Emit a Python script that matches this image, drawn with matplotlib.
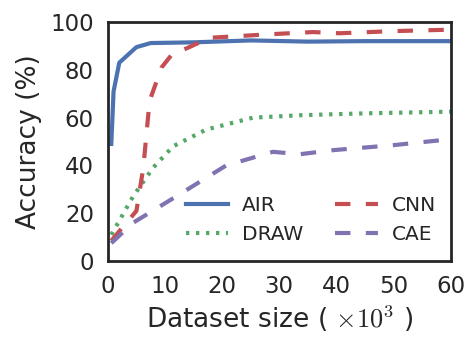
import matplotlib
matplotlib.use("Agg")
import matplotlib.pyplot as plt

# Accuracy vs. training set size (thousands of examples)
air_x = [0.6, 1.0, 2.0, 5.0, 7.5, 15, 25, 35, 45, 60]
air_y = [49, 71, 83, 89.5, 91.2, 91.5, 92.3, 91.8, 92.0, 92.0]

cnn_x = [0.6, 5.0, 6.2, 7.3, 9.4, 11.4, 13.8, 17.8, 27.7, 35.9, 40.6, 50, 60]
cnn_y = [8.5, 21, 39, 67, 81, 87, 89, 93.4, 94.8, 95.8, 95.3, 96.2, 96.8]

draw_x = [0.6, 4.4, 7.9, 11.4, 17.2, 25.4, 33.6, 45, 60]
draw_y = [11, 27, 39, 48, 55, 60, 61, 61.8, 62.5]

cae_x = [0.6, 4.4, 12.6, 20.7, 28.9, 33.6, 39.4, 50, 60]
cae_y = [7.5, 16, 28, 40, 45.7, 44.7, 46.4, 48.5, 51]

x_ticks = [0, 10, 20, 30, 40, 50, 60]
y_ticks = [0, 20, 40, 60, 80, 100]

plt.rcParams["font.family"] = ["DejaVu Sans"]
plt.rcParams["mathtext.fontset"] = "cm"
text_color = "#262626"

fig = plt.figure(figsize=(4.71, 3.44), dpi=100)
ax = fig.add_axes([0.229, 0.241, 0.728, 0.695])

lw = 3.0
ax.plot(air_x, air_y, color="#4C72B0", lw=lw, ls="-", label="AIR")
ax.plot(draw_x, draw_y, color="#55A868", lw=lw, ls=(0, (0.8, 1.6)), label="DRAW")
ax.plot(cnn_x, cnn_y, color="#C44E52", lw=lw, ls=(0, (3.7, 3.7)), label="CNN")
ax.plot(cae_x, cae_y, color="#8172B2", lw=lw, ls=(0, (3.7, 3.7)), label="CAE")

ax.set_xlim(0, 60)
ax.set_ylim(0, 100)
ax.set_xticks(x_ticks)
ax.set_yticks(y_ticks)
ax.tick_params(length=0, pad=10, labelsize=16.5, colors=text_color)
for sp in ax.spines.values():
    sp.set_linewidth(2.0)
    sp.set_color("#262626")

ax.set_xlabel(r"Dataset size ( $\times 10^3$ )", fontsize=19, color=text_color, labelpad=4)
ax.set_ylabel("Accuracy (%)", fontsize=19, color=text_color, labelpad=6)

ax.legend(ncol=2, loc="lower right", frameon=False, fontsize=14.5,
          handlelength=2.1, handletextpad=0.7, columnspacing=1.6,
          labelspacing=0.5, labelcolor=text_color,
          bbox_to_anchor=(1.01, -0.005))

fig.savefig("out.png", dpi=100)
